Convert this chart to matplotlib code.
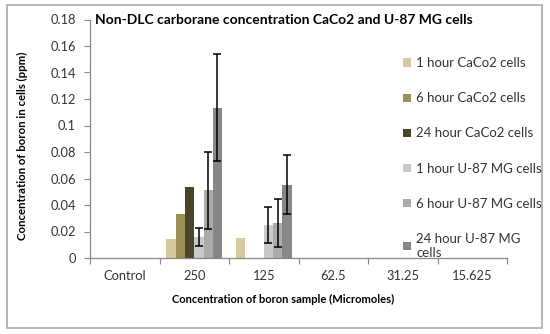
import matplotlib
matplotlib.use("Agg")
import matplotlib.pyplot as plt
import numpy as np
from matplotlib.patches import Rectangle

plt.rcParams["font.family"] = ["Lato", "DejaVu Sans"]

categories = ["Control", "250", "125", "62.5", "31.25", "15.625"]
series = ["1 hour CaCo2 cells", "6 hour CaCo2 cells", "24 hour CaCo2 cells",
          "1 hour U-87 MG cells", "6 hour U-87 MG cells", "24 hour U-87 MG\ncells"]
caco_1h = [0, 0.0141, 0.0149, 0, 0, 0]
caco_6h = [0, 0.0330, 0, 0, 0, 0]
caco_24h = [0, 0.0534, 0, 0, 0, 0]
u87_1h = [0, 0.0160, 0.0249, 0, 0, 0]
u87_6h = [0, 0.0510, 0.0262, 0, 0, 0]
u87_24h = [0, 0.1135, 0.0552, 0, 0, 0]
u87_1h_err = [0, 0.0070, 0.0133, 0, 0, 0]
u87_6h_err = [0, 0.0292, 0.0182, 0, 0, 0]
u87_24h_err = [0, 0.0405, 0.0222, 0, 0, 0]

values = [caco_1h, caco_6h, caco_24h, u87_1h, u87_6h, u87_24h]
errors = [None, None, None, u87_1h_err, u87_6h_err, u87_24h_err]
colors = ["#d4ca9c", "#9c8f56", "#4c4427", "#c9c9c9", "#ababab", "#878787"]

fig = plt.figure(figsize=(5.5, 3.34), dpi=100)
ax = fig.add_axes([90 / 550, 1 - 258 / 334, (507 - 90) / 550, (258 - 19.5) / 334])

x = np.arange(len(categories))
w = 1 / 7.5
handles = []
for i, (vals, err, col) in enumerate(zip(values, errors, colors)):
    pos = x + (i - 2.5) * w
    b = ax.bar(pos, vals, w, color=col, linewidth=0, zorder=2)
    handles.append(b)
    if err is not None:
        e = np.array(err)
        m = e > 0
        ax.errorbar(pos[m], np.array(vals)[m], yerr=e[m], fmt="none", ecolor="black",
                    elinewidth=1.1, capsize=2.6, capthick=1.1, zorder=3)

ax.set_xlim(-0.5, len(categories) - 0.5)
ax.set_ylim(0, 0.18)
ax.set_yticks(np.arange(0, 0.181, 0.02))
ax.set_yticklabels(["0", "0.02", "0.04", "0.06", "0.08", "0.1", "0.12", "0.14", "0.16", "0.18"])
ax.set_xticks(np.arange(-0.5, len(categories), 1.0))
ax.set_xticklabels([])
ax.set_xticks(x, minor=True)
ax.set_xticklabels(categories, minor=True)
ax.tick_params(axis="x", which="minor", length=0, pad=9, labelsize=9.3, colors="#333333")
ax.tick_params(axis="x", which="major", length=4, color="#888888", direction="out")
ax.tick_params(axis="y", length=4, color="#888888", labelsize=9.3, labelcolor="#333333", pad=6)
for s in ["top", "right"]:
    ax.spines[s].set_visible(False)
for s in ["left", "bottom"]:
    ax.spines[s].set_color("#888888")
    ax.spines[s].set_linewidth(0.9)

fig.text(95 / 550, 1 - 20 / 334, "Non-DLC carborane concentration CaCo2 and U-87 MG cells",
         fontsize=10, fontweight="bold", va="center", ha="left")
fig.text(22 / 550, 1 - 146 / 334, "Concentration of boron in cells (ppm)",
         fontsize=8.2, fontweight="bold", rotation=90, va="center", ha="center")
fig.text(283 / 550, 1 - 299 / 334, "Concentration of boron sample (Micromoles)",
         fontsize=8, fontweight="bold", va="center", ha="center")

leg = fig.legend(handles, series, loc="upper left", bbox_to_anchor=(398 / 550, 1 - 52 / 334),
                 frameon=False, fontsize=9.5, handlelength=0.6, handleheight=0.6,
                 handletextpad=0.4, labelspacing=1.75, borderaxespad=0)
for t in leg.get_texts():
    t.set_color("#333333")

fig.patches.append(Rectangle((7 / 550, 1 - 328 / 334), 535 / 550, 323 / 334,
                             transform=fig.transFigure, fill=False,
                             edgecolor="#aaaaaa", linewidth=1.2))

fig.savefig("out.png", dpi=100)
